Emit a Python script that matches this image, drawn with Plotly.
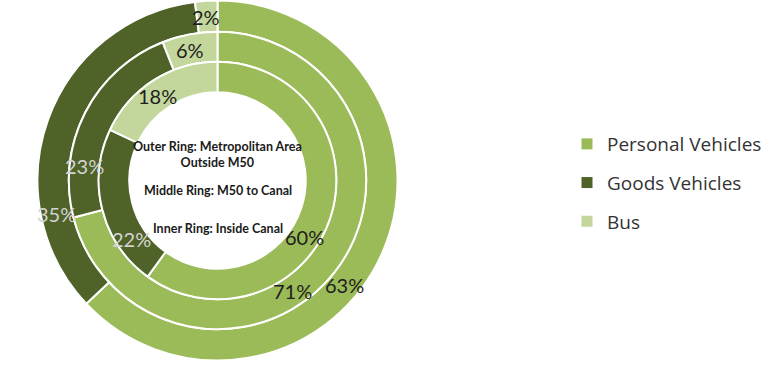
import math
import plotly.graph_objects as go

# Share of traffic by vehicle type, per ring of the city
categories = ["Personal Vehicles", "Goods Vehicles", "Bus"]
outer_ring = [63, 35, 2]    # Metropolitan Area Outside M50
middle_ring = [71, 23, 6]   # M50 to Canal
inner_ring = [60, 22, 18]   # Inside Canal

ring_titles = [
    "Outer Ring: Metropolitan Area<br>Outside M50",
    "Middle Ring: M50 to Canal",
    "Inner Ring: Inside Canal",
]

colors = ["#9BBB59", "#4F6228", "#C3D69B"]
label_colors = ["#1e1e1e", "#d4d4d4", "#1e1e1e"]
# where along each slice (0 = start, 1 = end) its percentage label sits
label_frac = [0.57, 0.25, 0.45]
FONT = "Lato, 'Open Sans', sans-serif"

W, H = 781, 365
CX, CY = 217.5, 180.5          # centre of the rings in pixels
R_OUT = 180                    # outer radius in pixels
ring_fracs = [1.0, 0.826, 0.66, 0.49]


def ring_domain(r):
    cx = CX / W
    cy = 1 - CY / H
    return dict(x=[cx - r / W, cx + r / W], y=[cy - r / H, cy + r / H])


fig = go.Figure()

for i, vals in enumerate([outer_ring, middle_ring, inner_ring]):
    r = R_OUT * ring_fracs[i]
    fig.add_trace(go.Pie(
        labels=categories,
        values=vals,
        hole=ring_fracs[i + 1] / ring_fracs[i],
        domain=ring_domain(r),
        sort=False,
        direction="clockwise",
        rotation=0,
        marker=dict(colors=colors, line=dict(color="white", width=2)),
        textinfo="none",
        hovertemplate="%{label}: %{value}%<extra></extra>",
        showlegend=False,
    ))

    # percentage labels, placed along each slice of this ring
    r_mid = R_OUT * (ring_fracs[i] + ring_fracs[i + 1]) / 2
    total = sum(vals)
    start = 0
    for v, frac, col in zip(vals, label_frac, label_colors):
        ang = math.radians(360 * (start + frac * v) / total)
        px = CX + r_mid * math.sin(ang)
        py = CY - r_mid * math.cos(ang)
        fig.add_annotation(
            x=px / W, y=1 - py / H, xref="paper", yref="paper",
            text=f"{v}%", showarrow=False,
            font=dict(family=FONT, size=20, color=col),
            xanchor="center", yanchor="middle",
        )
        start += v

# legend entries (one group each so the rows can be spaced apart)
for name, c in zip(categories, colors):
    fig.add_trace(go.Scatter(
        x=[None], y=[None], mode="markers", name=name, legendgroup=name,
        marker=dict(symbol="square", size=11, color=c),
    ))

# centre captions
caption_y = [154.5, 190, 228]
for text, py in zip(ring_titles, caption_y):
    fig.add_annotation(
        x=CX / W, y=1 - py / H, xref="paper", yref="paper",
        text=f"<b>{text}</b>", showarrow=False,
        font=dict(family=FONT, size=12.5, color="#1a1a1a"),
        xanchor="center", yanchor="middle", align="center",
    )

fig.update_layout(
    width=W, height=H,
    margin=dict(l=0, r=0, t=0, b=0),
    paper_bgcolor="white", plot_bgcolor="white",
    xaxis=dict(visible=False), yaxis=dict(visible=False),
    legend=dict(
        x=567 / W, y=1 - 125 / H, xanchor="left", yanchor="top",
        font=dict(family="'Open Sans', sans-serif", size=19, color="#333333"),
        tracegroupgap=11, bgcolor="rgba(0,0,0,0)",
    ),
)

fig.write_html("out.html")
